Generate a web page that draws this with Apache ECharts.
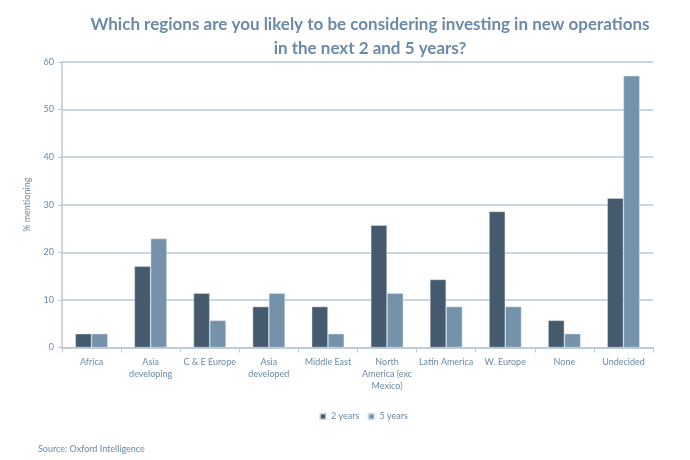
<!DOCTYPE html>
<html><head><meta charset="utf-8">
<script src="https://cdn.jsdelivr.net/npm/echarts@6/dist/echarts.min.js"></script>
<style>html,body{margin:0;padding:0;background:#fff}#c{width:690px;height:460px}</style>
</head><body><div id="c"></div>
<script>
const categories = ['Africa','Asia\ndeveloping','C & E Europe','Asia\ndeveloped','Middle East','North\nAmerica (exc\nMexico)','Latin America','W. Europe','None','Undecided'];
const twoYears = [2.9,17.1,11.4,8.6,8.6,25.7,14.3,28.6,5.7,31.4];
const fiveYears = [2.9,22.9,5.7,11.4,2.9,11.4,8.6,8.6,2.9,57.1];
const seriesNames = ['2 years','5 years'];
const titleText = 'Which regions are you likely to be considering investing in new operations\nin the next 2 and 5 years?';
const yAxisName = '% mentioning';
const sourceText = 'Source: Oxford Intelligence';

const txt = '#6b8aa6', grid = '#b9c9d9', font = 'Lato, "Open Sans", sans-serif';
const chart = echarts.init(document.getElementById('c'), null, {renderer:'canvas'});
chart.setOption({
  animation:false,
  color:['#455a6c','#7592ab'],
  title:[{text:titleText,left:365,textAlign:'center',top:8,
    textStyle:{color:'#6b8aa8',fontSize:17,fontWeight:'bold',fontFamily:font,lineHeight:24}},
    {text:sourceText,left:33,top:440,textStyle:{color:txt,fontSize:9,fontWeight:'normal',fontFamily:font}}],
  legend:{data:seriesNames,left:314,top:407,itemWidth:6,itemHeight:6,itemGap:8,icon:'rect',
    textStyle:{color:txt,fontSize:9,fontFamily:font}},
  grid:{left:62,right:37,top:62,bottom:112.5,containLabel:false},
  xAxis:{type:'category',data:categories,
    axisLine:{lineStyle:{color:grid,width:1.5}},
    axisTick:{show:true,lineStyle:{color:grid}},
    axisLabel:{color:txt,fontSize:9,fontFamily:font,interval:0,lineHeight:12,margin:9}},
  yAxis:{type:'value',min:0,max:60,interval:10,name:yAxisName,nameLocation:'middle',nameGap:30,
    nameTextStyle:{color:txt,fontSize:9,fontFamily:font},
    axisLine:{show:true,lineStyle:{color:grid,width:1.5}},
    axisTick:{show:true,length:4,lineStyle:{color:grid}},
    axisLabel:{color:txt,fontSize:9,fontFamily:font,margin:8},
    splitLine:{lineStyle:{color:grid,width:1.5}}},
  series:[
    {name:seriesNames[0],type:'bar',data:twoYears,barGap:'0%',barCategoryGap:'45%',
      itemStyle:{borderColor:'rgba(220,228,236,0.8)',borderWidth:0.6}},
    {name:seriesNames[1],type:'bar',data:fiveYears,barGap:'0%',barCategoryGap:'45%',
      itemStyle:{borderColor:'rgba(220,228,236,0.8)',borderWidth:0.6}}
  ]
});
</script></body></html>
